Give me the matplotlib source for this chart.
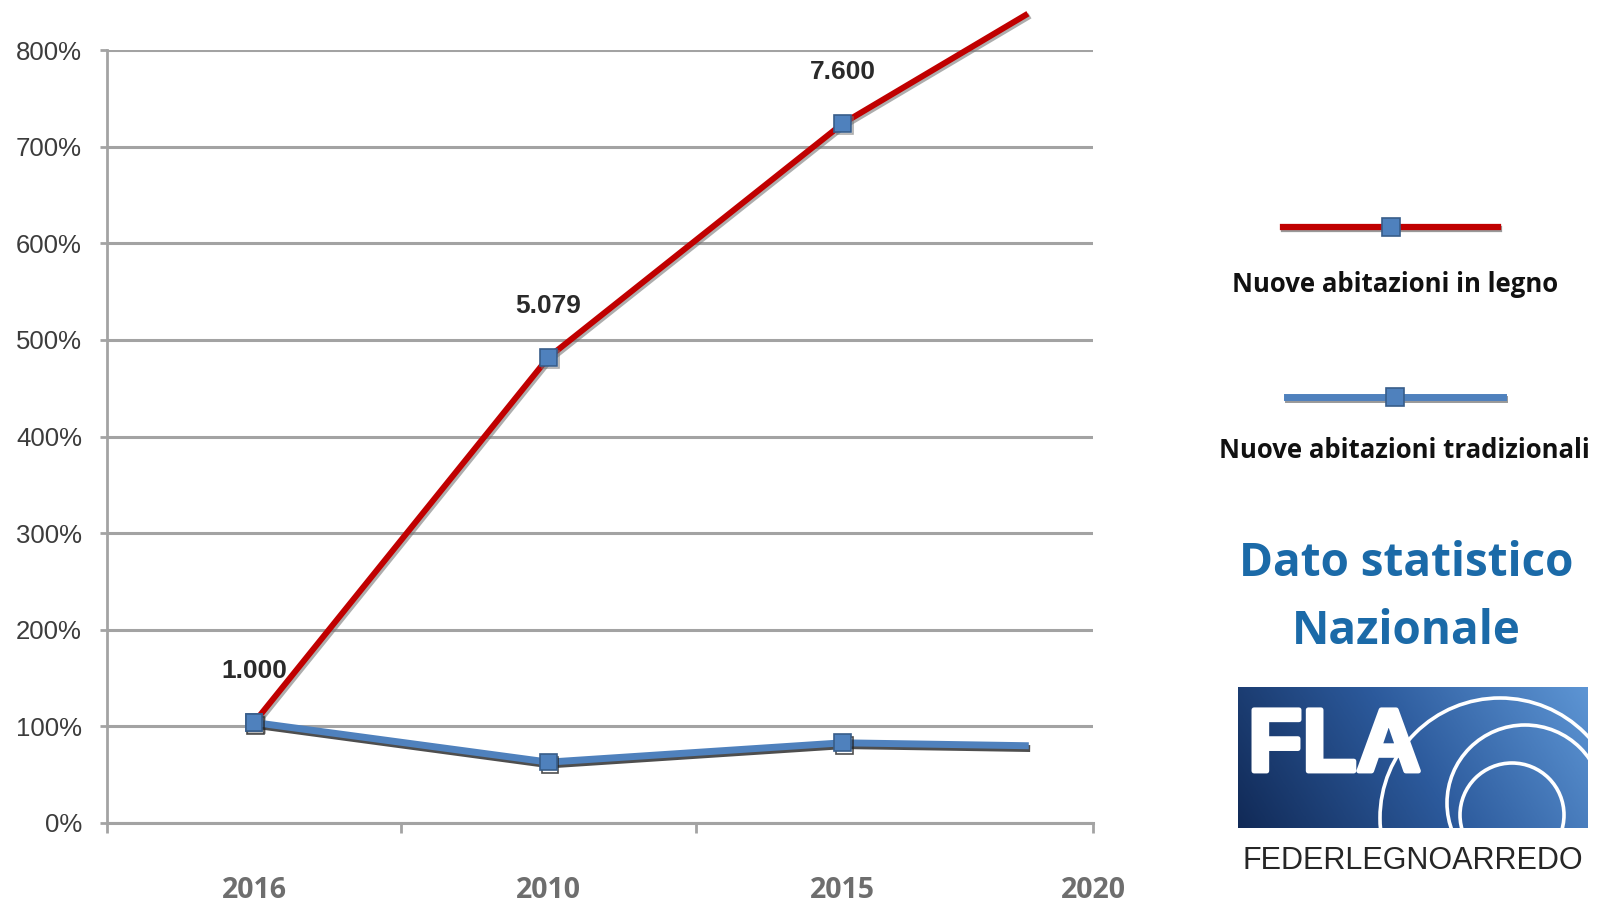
import numpy as np
import matplotlib
matplotlib.use('Agg')
import matplotlib.pyplot as plt
import matplotlib.patheffects as pe
from matplotlib.patches import Circle
from matplotlib.lines import Line2D
from matplotlib.colors import LinearSegmentedColormap

# data
years = ['2016', '2010', '2015', '2020']
legno = [104, 482, 724, 836]          # last value = end of the trend line (no marker)
tradizionali = [104, 63, 83, 80]
legno_labels = ['1.000', '5.079', '7.600']
series_names = ['Nuove abitazioni in legno', 'Nuove abitazioni tradizionali']
trend_end = 2.62   # x where the lines stop

red = '#c00000'
blue = '#4f81bd'
mk_edge = '#385d8a'
grid_col = '#a3a3a3'
narrow = ['Liberation Sans Narrow', 'Liberation Sans', 'DejaVu Sans']

W, H = 1598, 906
fig = plt.figure(figsize=(W / 100, H / 100), dpi=100)
ax = fig.add_axes([107 / W, 1 - 823 / H, (1093 - 107) / W, (823 - 50) / H])

xs = [0, 1, 2, trend_end]
shadow_r = [pe.SimpleLineShadow(offset=(1.5, -1.5), shadow_color='#777777', alpha=0.6), pe.Normal()]
shadow_b = [pe.SimpleLineShadow(offset=(1, -2), shadow_color='#222222', alpha=0.8), pe.Normal()]

ax.plot(xs, legno, color=red, lw=4.3, marker='s', markevery=[0, 1, 2], ms=12,
        mfc=blue, mec=mk_edge, mew=1.2, clip_on=False, zorder=3, path_effects=shadow_r)
ax.plot(xs, tradizionali, color=blue, lw=5, marker='s', markevery=[0, 1, 2], ms=12,
        mfc=blue, mec=mk_edge, mew=1.2, clip_on=False, zorder=4, path_effects=shadow_b)

for i, lab in enumerate(legno_labels):
    ax.annotate(lab, (xs[i], legno[i]), xytext=(0, 37), textcoords='offset points',
                ha='center', va='center', fontsize=19, fontweight='bold',
                color='#2a2a2a', family=narrow, zorder=5)

# axes styling
ax.set_xlim(-0.5, 2.85)
ax.set_ylim(0, 800)
ax.set_yticks(range(0, 801, 100))
ax.set_yticklabels([f'{v}%' for v in range(0, 801, 100)], family=narrow,
                   fontsize=18.5, color='#3c3c3c')
ax.tick_params(axis='y', length=5, width=2, color=grid_col, pad=13)
ax.grid(axis='y', color=grid_col, lw=2.2)
ax.set_axisbelow(True)

ax.set_xticks([])
ax.set_xticks([-0.5, 0.5, 1.5, 2.85], minor=True)
ax.tick_params(axis='x', which='minor', length=7, width=2, color=grid_col)
for i, y in enumerate(years):
    xp = i if i < 3 else 2.85
    ax.text(xp, -0.087, y, transform=ax.get_xaxis_transform(), ha='center', va='center',
            fontsize=20.5, fontweight='bold', color='#6e6e6e', family='Open Sans')

for s in ['top', 'right']:
    ax.spines[s].set_visible(False)
ax.spines['left'].set_color(grid_col)
ax.spines['left'].set_linewidth(2)
ax.spines['bottom'].set_color(grid_col)
ax.spines['bottom'].set_linewidth(2.2)

# right hand panel: legend, caption, logo (pixel coordinates)
side = fig.add_axes([0, 0, 1, 1], zorder=-1)
side.set_xlim(0, W)
side.set_ylim(H, 0)
side.axis('off')

entries = [(red, 1283, 1498, 227, 1395, 285), (blue, 1287, 1503, 397, 1404, 450)]
for (col, x0, x1, ly, tx, ty), name in zip(entries, series_names):
    side.add_line(Line2D([x0, x1], [ly, ly], color=col, lw=4.5 if col == red else 5,
                         path_effects=[pe.SimpleLineShadow(offset=(1, -1.5), alpha=0.4), pe.Normal()]))
    side.plot([(x0 + x1) / 2], [ly], marker='s', ms=13, mfc=blue, mec=mk_edge, mew=1.2)
    side.text(tx, ty, name, ha='center', va='center', fontsize=18.5, fontweight='bold',
              color='#111111', family='Open Sans')

side.text(1406, 563, 'Dato statistico', ha='center', va='center', fontsize=33,
          fontweight='bold', color='#1b6aa8', family='Open Sans')
side.text(1406, 632, 'Nazionale', ha='center', va='center', fontsize=33,
          fontweight='bold', color='#1b6aa8', family='Open Sans')

side.text(1413, 861, 'FEDERLEGNOARREDO', ha='center', va='center', fontsize=22,
          color='#262626', family='Liberation Sans')

# FLA logo
lx0, lx1, ly0, ly1 = 1238, 1588, 687, 828
lax = fig.add_axes([lx0 / W, 1 - ly1 / H, (lx1 - lx0) / W, (ly1 - ly0) / H])
gx, gy = np.meshgrid(np.linspace(0, 1, 300), np.linspace(0, 1, 120))
grad = 0.8 * gx + 0.2 * (1 - gy)
cmap = LinearSegmentedColormap.from_list('fla', ['#112a57', '#2c5a9c', '#5d95d4'])
lax.imshow(grad, cmap=cmap, extent=(lx0, lx1, ly1, ly0), aspect='auto')
lax.set_xlim(lx0, lx1)
lax.set_ylim(ly1, ly0)
lax.axis('off')
for (cx, cy, r) in [(1500, 818, 120), (1525, 803, 78), (1512, 815, 52)]:
    lax.add_patch(Circle((cx, cy), r, fill=False, ec='white', lw=2.6))
lax.text(1248, 771, 'FLA', ha='left', va='baseline', fontsize=64, fontweight='bold',
         color='white', family='Liberation Sans',
         path_effects=[pe.withStroke(linewidth=3.5, foreground='white')])

fig.savefig('out.png', dpi=100)
